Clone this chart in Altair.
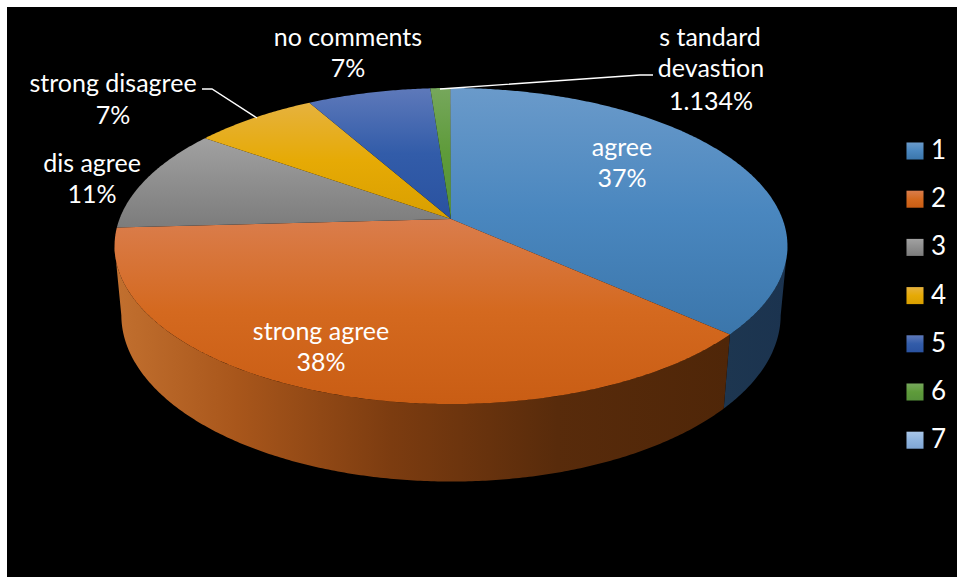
import math
import altair as alt

# Slice shares in percent, clockwise from twelve o'clock
slice_names = ["1", "2", "3", "4", "5", "6", "7"]
slice_values = [36.6, 37.5, 10.7, 7.0, 7.0, 1.134, 0.03]

# Vertical colour ramps of the top faces
slice_ramps = [
    ["#6a9aca", "#4a87bf", "#3b76ab"],
    ["#da7d4c", "#d4691f", "#c95d14"],
    ["#a1a1a1", "#8e8e8e", "#7c7c7c"],
    ["#e6b23e", "#e6aa05", "#d99f00"],
    ["#5e79ba", "#325ca9", "#2a52a0"],
    ["#76a75c", "#5e9b3a", "#56913a"],
    ["#a9c6e8", "#8fb4de", "#7fa6d4"],
]

# Data labels: text lines with their anchor
label_lines = ["agree", "37%", "strong agree", "38%", "dis agree", "11%",
               "strong disagree", "7%", "no comments", "7%",
               "s tandard", "devastion", "1.134%"]
label_x = [622, 622, 321, 321, 92, 92, 113, 113, 348, 348, 710, 711, 711]
label_y = [148, 179, 332, 363, 164, 195, 84, 116, 38, 69, 38, 69, 102]

# Leader lines from the outer labels to their slices
leader_paths = [
    [[202, 89], [212, 89], [257, 118]],
    [[653, 75], [640, 75], [440, 89]],
]

# Perspective view of the pie: the rim of a disc is a projected circle
CX, CY = 451.0, 219.0
SPREAD_X, SPREAD_Y = 331.5, 153.4
TILT, DEPTH_SCALE, DEPTH_DROP = 0.171, 0.02, 69.5


def rim(theta_deg, depth=0.0):
    t = math.radians(theta_deg)
    u, v = math.sin(t), math.cos(t)
    w = 1 + TILT * v + DEPTH_SCALE * depth
    return [CX + SPREAD_X * u / w, CY + (-SPREAD_Y * v + DEPTH_DROP * depth) / w]


def arc_points(a, b, depth=0.0):
    n = max(2, int(abs(b - a) * 2))
    return [rim(a + (b - a) * i / n, depth) for i in range(n + 1)]


def polygon(points, **props):
    ring = points + [points[0]]
    return {"type": "Feature", "properties": props,
            "geometry": {"type": "Polygon", "coordinates": [ring]}}


total = sum(slice_values)
edges = [0.0]
for value in slice_values:
    edges.append(edges[-1] + value / total * 360)

tops = [
    polygon([[CX, CY]] + arc_points(edges[i], edges[i + 1]), slice=slice_names[i])
    for i in range(len(slice_names))
]


def wall(a, b):
    return polygon(arc_points(a, b) + arc_points(b, a, 1.0))


# The disc's silhouette turns away from the viewer at these angles
edge_right = math.degrees(math.acos(-TILT))
edge_left = 360 - edge_right
blue_wall = wall(edge_right, edges[1])
orange_wall = wall(edges[1], edge_left)

projection = alt.Projection(type="identity", scale=1, translate=[0, 0])


def ramp_expr(colors):
    stops = ",".join(
        f"{{offset:{o},color:'{c}'}}" for o, c in zip([0, 0.5, 1], colors)
    )
    return {"expr": f"{{gradient:'linear',x1:0,y1:0,x2:0,y2:1,stops:[{stops}]}}"}


def side_gradient(stops):
    return alt.LinearGradient(
        gradient="linear", x1=0, y1=0, x2=1, y2=0,
        stops=[alt.GradientStop(offset=o, color=c) for o, c in stops],
    )


backdrop = alt.Chart(alt.Data(values=[{"a": 1}])).mark_rect(color="black").encode(
    x=alt.value(7), x2=alt.value(957), y=alt.value(7), y2=alt.value(577)
)

blue_side = alt.Chart(alt.Data(values=[blue_wall])).mark_geoshape(
    fill=side_gradient([(0, "#1d3650"), (1, "#1b334f")]), strokeWidth=0
).project(**projection.to_dict())

orange_side = alt.Chart(alt.Data(values=[orange_wall])).mark_geoshape(
    fill=side_gradient([(0, "#c2702f"), (0.2, "#a8561b"), (0.45, "#7c3c10"),
                        (0.72, "#582b0b"), (1, "#4f2608")]),
    strokeWidth=0,
).project(**projection.to_dict())

top_faces = alt.Chart(alt.Data(values=tops)).mark_geoshape(strokeWidth=0).encode(
    fill=alt.Fill(
        "properties.slice:N",
        scale=alt.Scale(domain=slice_names, range=[ramp_expr(r) for r in slice_ramps]),
        legend=alt.Legend(
            title=None, orient="none", legendX=902, legendY=138,
            symbolType="square", symbolSize=290, symbolStrokeWidth=0,
            labelColor="white", labelFont="Lato", labelFontSize=26,
            labelOffset=3, rowPadding=22.2, symbolOpacity=1,
        ),
    )
).project(**projection.to_dict())

leaders = alt.Chart(alt.Data(values=[
    {"type": "Feature", "properties": {},
     "geometry": {"type": "LineString", "coordinates": p}} for p in leader_paths
])).mark_geoshape(filled=False, stroke="white", strokeWidth=1.3).project(**projection.to_dict())

labels = alt.Chart(alt.Data(values=[
    {"t": t, "px": x, "py": y} for t, x, y in zip(label_lines, label_x, label_y)
])).mark_text(color="white", font="Lato", fontSize=25, align="center", baseline="middle").encode(
    x=alt.X("px:Q", scale=None), y=alt.Y("py:Q", scale=None), text="t:N"
)

chart = alt.layer(backdrop, blue_side, orange_side, top_faces, leaders, labels).properties(
    width=957, height=577, padding=0, background="white",
    autosize=alt.AutoSizeParams(type="none"),
).configure_view(stroke=None)

chart.save("out.html", embed_options={"renderer": "svg", "actions": False})
